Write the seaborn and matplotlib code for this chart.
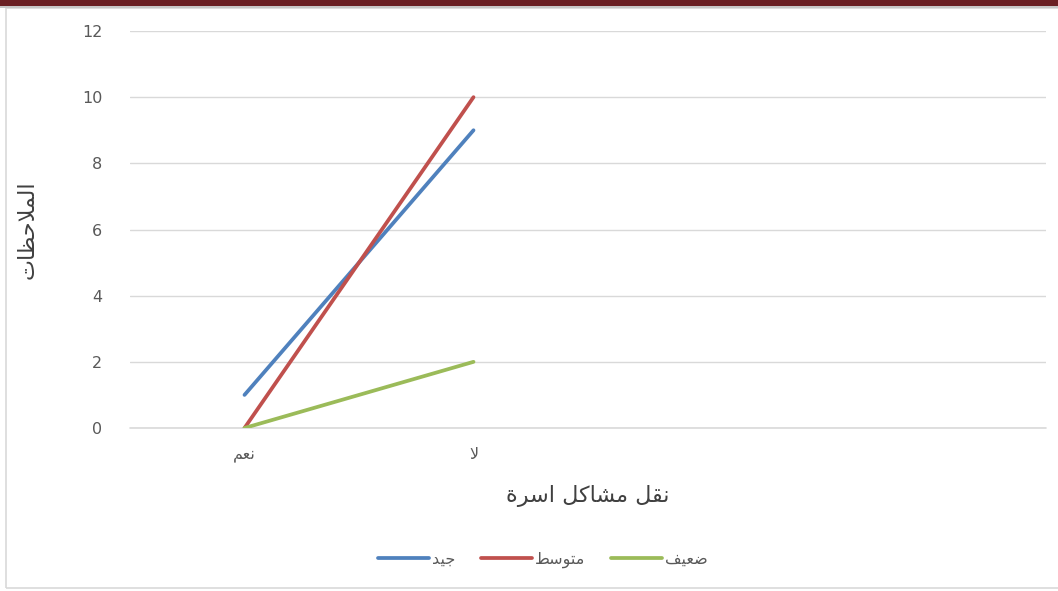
import matplotlib.pyplot as plt
import seaborn as sns
import pandas as pd
from matplotlib.patches import Rectangle

# Arabic strings are stored pre-shaped (presentation forms, visual order)
# because matplotlib does no Arabic shaping / RTL layout.
categories = ["\ufee2\ufecc\ufee7", "\ufefb", "", ""]          # نعم, لا, (empty), (empty)
series_names = ["\ufeaa\ufef4\ufe9f",                            # جيد
                "\ufec2\ufeb3\ufeee\ufe98\ufee3",                # متوسط
                "\ufed2\ufef4\ufecc\ufebf"]                      # ضعيف
good = [1, 9]
medium = [0, 10]
weak = [0, 2]
y_ticks = [0, 2, 4, 6, 8, 10, 12]
x_title = "\ufe93\ufeae\ufeb3\ufe8d \ufede\ufedb\ufe8e\ufeb8\ufee3 \ufede\ufed8\ufee7"   # نقل مشاكل اسرة
y_title = "\ufe95\ufe8e\ufec8\ufea3\ufefc\ufee4\ufedf\ufe8d"                          # الملاحظات
colors = ["#4F81BD", "#C0504D", "#9BBB59"]

rows = []
for name, vals in zip(series_names, [good, medium, weak]):
    for i, v in enumerate(vals):
        rows.append({"pos": i, "value": v, "series": name})
df = pd.DataFrame(rows)

sns.set_theme(style="white")
plt.rcParams["font.family"] = ["DejaVu Sans"]

fig = plt.figure(figsize=(10.58, 5.91), dpi=100)
ax = fig.add_axes([130 / 1058, 1 - 428 / 591, 916 / 1058, 397 / 591])

sns.lineplot(data=df, x="pos", y="value", hue="series", palette=colors,
             linewidth=2.7, ax=ax, legend=True, zorder=3)

ax.set_xlim(-0.5, len(categories) - 0.5)
ax.set_ylim(0, 12)
ax.set_xticks(range(len(categories)))
ax.set_xticklabels(categories)
ax.set_yticks(y_ticks)
ax.yaxis.grid(True, color="#D9D9D9", linewidth=1)
ax.axhline(0, color="#D9D9D9", linewidth=1.2, clip_on=False, zorder=1)
ax.set_axisbelow(True)
for s in ax.spines.values():
    s.set_visible(False)
ax.tick_params(axis="both", length=0, labelsize=11.5, colors="#595959")
ax.tick_params(axis="x", pad=14)
ax.tick_params(axis="y", pad=20)

ax.set_xlabel(x_title, fontsize=16, color="#404040", labelpad=16)
ax.set_ylabel(y_title, fontsize=16, color="#404040", labelpad=32)

ax.legend(loc="center", bbox_to_anchor=(543 / 1058, 1 - 560 / 591),
          bbox_transform=fig.transFigure, ncol=3, frameon=False,
          fontsize=11.5, handlelength=3.2, columnspacing=1.6, handletextpad=0.2,
          labelcolor="#595959")

# page frame and the dark header stripe
fig.patches.append(Rectangle((6 / 1058, 3 / 591), 1.0, 580 / 591, transform=fig.transFigure,
                             fill=False, edgecolor="#D9D9D9", linewidth=1.2))
fig.patches.append(Rectangle((0, 1 - 6 / 591), 1.0, 6 / 591, transform=fig.transFigure,
                             facecolor="#6B2024", edgecolor="none"))
fig.patches.append(Rectangle((0, 1 - 8 / 591), 1.0, 2 / 591, transform=fig.transFigure,
                             facecolor="#C8C8C8", edgecolor="none"))

fig.savefig("out.png", dpi=100)
